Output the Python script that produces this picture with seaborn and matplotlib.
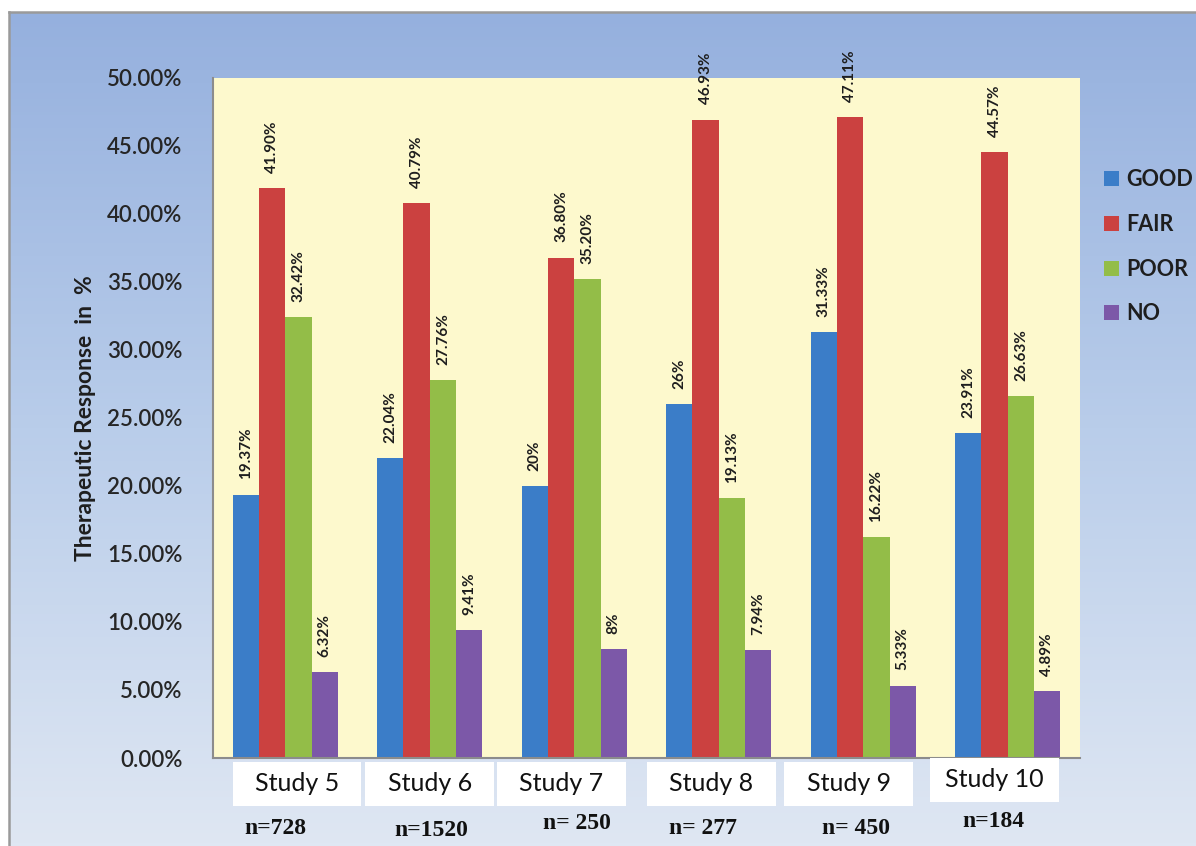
import numpy as np
import pandas as pd
import matplotlib
matplotlib.use("Agg")
import matplotlib.pyplot as plt
from matplotlib.patches import Rectangle
from matplotlib.ticker import FuncFormatter, FixedLocator
import seaborn as sns

# Therapeutic response by study (percent of patients)
studies = ["Study 5", "Study 6", "Study 7", "Study 8", "Study 9", "Study 10"]
sample_sizes = ["n=728", "n=1520", "n= 250", "n= 277", "n= 450", "n=184"]
responses = ["GOOD", "FAIR", "POOR", "NO"]
good = [19.37, 22.04, 20, 26, 31.33, 23.91]
fair = [41.90, 40.79, 36.80, 46.93, 47.11, 44.57]
poor = [32.42, 27.76, 35.20, 19.13, 16.22, 26.63]
no_resp = [6.32, 9.41, 8, 7.94, 5.33, 4.89]

series = {"GOOD": good, "FAIR": fair, "POOR": poor, "NO": no_resp}
df = pd.DataFrame(
    [(s, r, v) for r in responses for s, v in zip(studies, series[r])],
    columns=["Study", "Response", "Value"],
)

palette = {"GOOD": "#3b7dc8", "FAIR": "#cb4140", "POOR": "#93bd48", "NO": "#7c58a8"}

sns.set_theme(style="white")
plt.rcParams["font.family"] = ["Lato", "DejaVu Sans"]

W, H = 1196, 846
fig = plt.figure(figsize=(W / 100, H / 100), dpi=100)
fig.patch.set_facecolor("white")

# Blue gradient panel behind the chart
bg = fig.add_axes([9 / W, 0, 1 - 9 / W, 1 - 12 / H], zorder=-5)
grad = np.linspace(0, 1, 256)[:, None]
cmap = matplotlib.colors.LinearSegmentedColormap.from_list(
    "panel", ["#95b0de", "#b9cdea", "#dfe7f3"])
bg.imshow(grad, aspect="auto", cmap=cmap, extent=[0, 1, 0, 1], origin="upper")
bg.set_xlim(0, 1)
bg.set_ylim(0, 1)
bg.set_xticks([])
bg.set_yticks([])
for side in ("right", "bottom"):
    bg.spines[side].set_visible(False)
for side in ("top", "left"):
    bg.spines[side].set_color("#9a9a9a")
    bg.spines[side].set_linewidth(1.8)

ax = fig.add_axes([213 / W, 1 - 758 / H, (1080 - 213) / W, (758 - 78) / H])
ax.set_facecolor("#fdf9cd")

sns.barplot(data=df, x="Study", y="Value", hue="Response", hue_order=responses,
            order=studies, palette=palette, width=0.73, saturation=1,
            edgecolor="none", linewidth=0, ax=ax)

def fmt_label(v):
    return f"{v:.0f}%" if float(v).is_integer() else f"{v:.2f}%"

for cont, r in zip(ax.containers, responses):
    ax.bar_label(cont, labels=[fmt_label(v) for v in series[r]], rotation=90,
                 padding=11, fontsize=11, fontweight="bold", color="#1e1e1e")

ax.set_ylim(0, 50)
ax.set_xlim(-0.5, len(studies) - 0.5)
ax.yaxis.set_major_locator(FixedLocator(np.arange(0, 50.1, 5)))
ax.yaxis.set_major_formatter(FuncFormatter(lambda v, p: f"{v:.2f}%"))
ax.tick_params(axis="y", which="major", direction="out", length=8, width=1.2,
               color="#a0a0a0", labelsize=16, labelcolor="#262626", pad=14)
for lbl in ax.get_yticklabels():
    lbl.set_fontweight("semibold")

# Category boundary ticks on the x axis
ax.set_xticks([])
ax.xaxis.set_minor_locator(FixedLocator(np.arange(-0.5, len(studies), 1.0)))
ax.tick_params(axis="x", which="minor", direction="out", length=6, width=1.2,
               color="#a0a0a0")

for side in ("top", "right"):
    ax.spines[side].set_visible(False)
for side in ("left", "bottom"):
    ax.spines[side].set_color("#8c8c8c")
    ax.spines[side].set_linewidth(1.5)

ax.set_xlabel("")
ax.set_ylabel("Therapeutic Response  in  %", fontsize=16.5, fontweight="bold",
              color="#1e1e1e", labelpad=8)

# Study name boxes and sample sizes below the axis
nudge = [0.08, 0.0, -0.09, -0.05, -0.10, -0.09]
n_nudge = [-0.07, 0.01, 0.02, -0.11, -0.05, -0.10]
box_top = [-0.006, -0.006, -0.006, -0.006, -0.006, 0.0]
n_y = [-0.104, -0.107, -0.096, -0.103, -0.104, -0.094]
xt = ax.get_xaxis_transform()
for i, (name, n) in enumerate(zip(studies, sample_sizes)):
    cx = i + nudge[i]
    ax.add_patch(Rectangle((cx - 0.445, box_top[i] - 0.064), 0.89, 0.064,
                           transform=xt, facecolor="white", edgecolor="none",
                           clip_on=False, zorder=3))
    ax.text(cx, box_top[i] - 0.032, name, transform=xt, ha="center", va="center",
            fontsize=18, color="#111111", zorder=4)
    ax.text(i + n_nudge[i], n_y[i], n, transform=xt, ha="center", va="center",
            fontsize=17, fontweight="bold", color="#111111",
            family=["Liberation Serif", "DejaVu Serif"])

handles, labels = ax.get_legend_handles_labels()
leg = ax.legend(handles, labels, loc="upper left", bbox_to_anchor=(1.005, 0.894),
                frameon=False, handlelength=0.7, handleheight=0.7,
                handletextpad=0.35, labelspacing=1.1,
                prop={"size": 15.5, "weight": "bold"})
for t in leg.get_texts():
    t.set_color("#1e1e1e")

fig.savefig("out.png", dpi=100, facecolor=fig.get_facecolor())
